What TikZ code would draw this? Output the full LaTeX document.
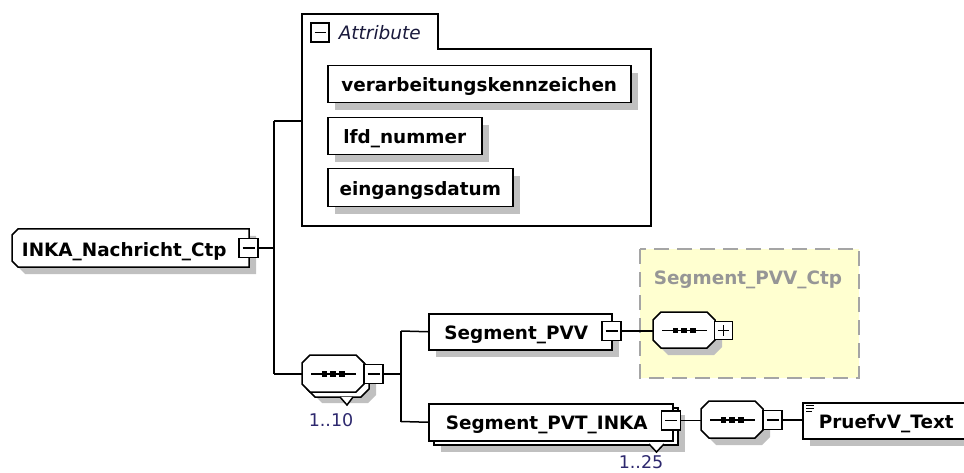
\documentclass[tikz,border=0pt]{standalone}
\usepackage{fontspec}
\setmainfont{DejaVu Sans}
\usetikzlibrary{shadows,calc}
\definecolor{shadowc}{RGB}{192,192,192}
\definecolor{ctpfill}{RGB}{255,255,208}
\definecolor{ctpdraw}{RGB}{165,165,165}
\definecolor{ctptext}{RGB}{150,150,150}
\definecolor{occtext}{RGB}{45,40,110}
\definecolor{attrtext}{RGB}{25,25,60}
\newcommand\octa[5]{\path[#5] (#1+8,#2) -- (#1+#3-8,#2) -- (#1+#3,#2+8) -- (#1+#3,#2+#4-8) -- (#1+#3-8,#2+#4) -- (#1+8,#2+#4) -- (#1,#2+#4-8) -- (#1,#2+8) -- cycle;}
\newcommand\seqicon[2]{%
  \draw[line width=1.4pt] (#1-22,#2) -- (#1+23,#2);
  \fill (#1-11.5,#2-2.7) rectangle (#1-6.1,#2+2.7);
  \fill (#1-2.7,#2-2.7) rectangle (#1+2.7,#2+2.7);
  \fill (#1+6.1,#2-2.7) rectangle (#1+11.5,#2+2.7);}
\begin{document}
\begin{tikzpicture}[x=1pt,y=-1pt,line width=1.5pt,
  boxtext/.style={font=\fontsize{18.4}{20}\selectfont\bfseries, text height=15pt, text depth=0pt, inner sep=0pt},
  elbox/.style={boxtext, draw=black, fill=white, rectangle, anchor=north west},
  shad/.style={drop shadow={shadow xshift=7pt,shadow yshift=-7pt,fill=shadowc,draw=none,opacity=1}},
  btn/.style={draw=black, fill=white, rectangle, inner sep=0pt, minimum width=19pt, minimum height=19pt, line width=1.5pt},
  minus/.style={btn, path picture={\draw[line width=1.4pt] ([xshift=3.5pt]path picture bounding box.west) -- ([xshift=-3.5pt]path picture bounding box.east);}},
  plus/.style={btn, path picture={\draw[line width=1.4pt] ([xshift=3.5pt]path picture bounding box.west) -- ([xshift=-3.5pt]path picture bounding box.east) ([yshift=-3.5pt]path picture bounding box.north) -- ([yshift=3.5pt]path picture bounding box.south);}},
  conn/.style={draw=black, line width=1.5pt},
  occ/.style={font=\fontsize{17.5}{20}\selectfont, text=occtext, inner sep=0pt, anchor=base west},
  anchorbox/.style={inner sep=0pt, anchor=north west, rectangle},
]
\useasboundingbox (0,0) rectangle (964,473);

% ---- main element
\path[fill=shadowc] (25,236) -- (256,236) -- (256,274) -- (25,274) -- (19,268) -- (19,242) -- cycle;
\path[draw=black, fill=white] (18,229) -- (249,229) -- (249,267) -- (18,267) -- (12,261) -- (12,235) -- cycle;
\node[boxtext, anchorbox, minimum width=237pt, minimum height=38pt] (main) at (12,229) {INKA\_Nachricht\_Ctp\kern14pt};
\node[minus] (mainbtn) at (248.5,248) {};

% ---- junction coordinates
\coordinate (ja) at (274,121);
\coordinate (jm) at (274,248);
\coordinate (jb) at (274,374);

% ---- attribute group
\path[draw=black] (302,14) -- (438,14) -- (438,49) -- (651,49) -- (651,226) -- (302,226) -- cycle;
\coordinate (grp) at (302,121);
\node[minus, minimum width=18pt] (attrbtn) at (320,32.5) {};
\node[font=\fontsize{18.5}{20}\selectfont\itshape, text=attrtext, inner sep=0pt, anchor=base west] (attrlbl) at (338,40) {Attribute};
\node[elbox, shad, minimum width=303pt, minimum height=37pt] (a1) at (327,65) {verarbeitungskennzeichen};
\node[elbox, shad, minimum width=154pt, minimum height=37pt] (a2) at (327,117) {lfd\_nummer};
\node[elbox, shad, minimum width=185pt, minimum height=38pt] (a3) at (327,168) {eingangsdatum};

% ---- sequence 1..10
\octa{314}{366}{62}{37}{fill=shadowc}
\octa{307}{360}{62}{37}{draw=black, fill=white}
\fill[white] (340,397) -- (347,405) -- (353,397) -- cycle;
\draw (340,397) -- (347,405) -- (353,397);
\octa{302}{355}{62}{37}{draw=black, fill=white}
\node[anchorbox, minimum width=62pt, minimum height=37pt] (seq1) at (302,355) {};
\seqicon{333}{374}
\node[minus] (seq1btn) at (373.5,374) {};
\node[occ] (occ1) at (308,426) {1..10};

% ---- Segment_PVV
\node[elbox, shad, minimum width=183pt, minimum height=36pt] (pvv) at (428,313) {Segment\_PVV\kern8pt};
\node[minus] (pvvbtn) at (611.5,331) {};

% ---- Segment_PVV_Ctp
\draw[ctpdraw, fill=ctpfill, line width=1.5pt, dash pattern=on 15pt off 8pt] (640,249) rectangle (859,378);
\node[font=\fontsize{18.4}{20}\selectfont\bfseries, text=ctptext, inner sep=0pt, anchor=base west] (ctplbl) at (653,284) {Segment\_PVV\_Ctp};
\octa{660}{319}{62}{36}{fill=shadowc}
\octa{653}{312}{62}{36}{draw=black, fill=white}
\node[anchorbox, minimum width=62pt, minimum height=36pt] (seq2) at (653,312) {};
\seqicon{684}{330.5}
\node[plus, minimum width=18pt, minimum height=18pt] (seq2btn) at (723.5,330.5) {};

% ---- Segment_PVT_INKA
\node[elbox, shad, minimum width=244pt, minimum height=37pt] (pvtcopy) at (433,407) {};
\fill[white] (649,444) -- (656.5,452) -- (664,444) -- cycle;
\draw (649,444) -- (656.5,452) -- (664,444);
\node[elbox, minimum width=244pt, minimum height=37pt] (pvt) at (428,403) {Segment\_PVT\_INKA\kern8pt};
\node[minus] (pvtbtn) at (671,420.5) {};
\node[occ] (occ2) at (618,468.5) {1..25};

% ---- inner sequence
\octa{708}{408}{62}{37}{fill=shadowc}
\octa{701}{401}{62}{37}{draw=black, fill=white}
\node[anchorbox, minimum width=62pt, minimum height=37pt] (seq3) at (701,401) {};
\seqicon{732}{420}
\node[minus] (seq3btn) at (772.5,420) {};

% ---- PruefvV_Text
\node[elbox, shad, minimum width=175pt, minimum height=36pt] (pruef) at (802,402) {PruefvV\_Text\kern8pt};
\draw[line width=0.9pt] (806,405.5) -- (814,405.5) (806,408.5) -- (814,408.5) (806,411.5) -- (812,411.5);

% ---- connectors
\draw[conn] (mainbtn.east) -- (jm);
\draw[conn] (ja) -- (jb);
\draw[conn] (ja) -- (grp);
\draw[conn] (jb) -- (jb -| seq1.west);
\coordinate (jc) at (401,331);
\coordinate (jd) at (401,421.5);
\draw[conn] (seq1btn.east) -- (seq1btn.east -| jc);
\draw[conn] (jc) -- (jd);
\draw[conn] (jc) -- (pvv.west);
\draw[conn] (jd) -- (pvt.west);
\draw[conn] (pvvbtn.east) -- (pvvbtn.east -| seq2.west);
\draw[conn] (pvtbtn.east) -- (pvtbtn.east -| seq3.west);
\draw[conn] (seq3btn.east) -- (seq3btn.east -| pruef.west);
\end{tikzpicture}
\end{document}
